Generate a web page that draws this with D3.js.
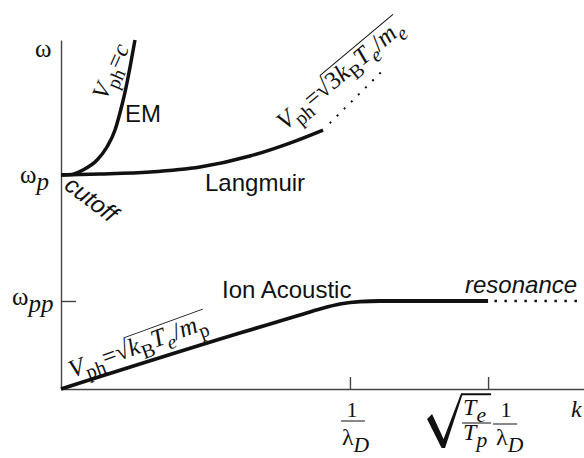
<!DOCTYPE html>
<html><head><meta charset="utf-8">
<script src="https://cdn.jsdelivr.net/npm/d3@7"></script>
<style>body{margin:0;background:#fff}svg{display:block}</style>
</head><body><svg id="c" width="584" height="458"></svg>
<script>
// ---- data (k in units of 1/lambda_D, omega in units of omega_pp) ----
const emK = [0, 0.038, 0.076, 0.125, 0.159, 0.187, 0.204, 0.221, 0.239, 0.256];
const emW = [2.432, 2.438, 2.489, 2.602, 2.75, 2.943, 3.136, 3.364, 3.659, 3.966];
const langK = [0, 0.135, 0.308, 0.481, 0.654, 0.792, 0.907];
const langW = [2.432, 2.443, 2.466, 2.523, 2.648, 2.795, 2.943];
const langDotK = [0.93, 1.12];
const langDotW = [3.02, 3.64];
const ionK = [0, 0.619, 0.758, 0.827, 0.896, 0.965, 1.035, 1.104, 1.478];
const ionW = [0, 0.636, 0.773, 0.841, 0.909, 0.966, 0.994, 1, 1];
const ionDotK = [1.5, 1.79];
const ionDotW = [1, 1];
const xTickVals = [1, 1.478];      // 1/lambda_D , sqrt(Te/Tp)/lambda_D
const yTickVals = [1];             // omega_pp
const omegaP = 2.432;
const kMax = 1.81, wMax = 3.966;

const svg = d3.select("#c");
const x = d3.scaleLinear().domain([0, kMax]).range([61, 584]);
const y = d3.scaleLinear().domain([0, wMax]).range([389, 40]);
const SERIF = "'Liberation Serif','Times New Roman',serif";
const SANS = "'Liberation Sans',Arial,Helvetica,sans-serif";

// axes
const gx = svg.append("g").attr("transform", `translate(0,${y(0)})`)
  .call(d3.axisBottom(x).tickValues(xTickVals).tickSizeInner(-12).tickSizeOuter(0).tickFormat(""));
const gy = svg.append("g").attr("transform", `translate(${x(0)},0)`)
  .call(d3.axisLeft(y).tickValues(yTickVals).tickSizeInner(-15).tickSizeOuter(0).tickFormat(""));
[gx, gy].forEach(g => {
  g.selectAll("path,line").attr("stroke", "#444").attr("stroke-width", 1.4);
});

// curves
const zip = (a, b) => a.map((v, i) => [v, b[i]]);
const line = d3.line().x(d => x(d[0])).y(d => y(d[1])).curve(d3.curveMonotoneX);
const lineL = d3.line().x(d => x(d[0])).y(d => y(d[1]));
svg.append("path").attr("d", line(zip(emK, emW))).attr("fill", "none").attr("stroke", "#111").attr("stroke-width", 3.5);
svg.append("path").attr("d", line(zip(langK, langW))).attr("fill", "none").attr("stroke", "#111").attr("stroke-width", 3.5);
svg.append("path").attr("d", line(zip(ionK, ionW))).attr("fill", "none").attr("stroke", "#111").attr("stroke-width", 3.8);
svg.append("path").attr("d", lineL(zip(langDotK, langDotW))).attr("fill", "none").attr("stroke", "#111")
  .attr("stroke-width", 2).attr("stroke-dasharray", "2,8");
svg.append("path").attr("d", lineL(zip(ionDotK, ionDotW))).attr("fill", "none").attr("stroke", "#111")
  .attr("stroke-width", 2.5).attr("stroke-dasharray", "2.5,7.5");

// math text helper: parts = [text, italic, sub, sizeFactor]
function mt(sel, x0, y0, parts, fs, anchor) {
  const t = sel.append("text").attr("x", x0).attr("y", y0)
    .style("font-family", SERIF).style("font-size", fs + "px").attr("fill", "#111");
  if (anchor) t.attr("text-anchor", anchor);
  let cur = 0;
  parts.forEach(([s, it, sub, sf]) => {
    const target = sub ? fs * 0.28 : 0;
    const ts = t.append("tspan").text(s).style("font-style", it ? "italic" : "normal").attr("dy", target - cur);
    cur = target;
    if (sub) ts.style("font-size", fs * (sf || 0.8) + "px");
    else if (sf) ts.style("font-size", fs * sf + "px");
  });
  return t;
}
function radFormula(cx, cy, ang, pre, inner, fs) {
  const g = svg.append("g").attr("transform", `translate(${cx},${cy}) rotate(${ang})`);
  const a = mt(g, 0, 0, pre.concat([["\u221A", false, false]]), fs);
  const wA = a.node().getComputedTextLength();
  const b = mt(g, wA, 0, inner, fs);
  const wB = b.node().getComputedTextLength();
  g.append("line").attr("x1", wA - 0.8).attr("x2", wA + wB + 1)
    .attr("y1", -fs * 0.8).attr("y2", -fs * 0.8).attr("stroke", "#111").attr("stroke-width", 1);
}
const vph = [["V", true, false], ["ph", false, true], ["=", false, false]];

// Vph = c
{
  const g = svg.append("g").attr("transform", "translate(106,101) rotate(-66)");
  mt(g, 0, 0, vph.concat([["c", true, false]]), 24);
}
radFormula(285, 131, -40, vph, [["3", false, false], ["k", true, false], ["B", false, true], ["T", true, false], ["e", true, true], ["/", false, false], ["m", true, false], ["e", true, true]], 25);
radFormula(72, 378, -20, vph, [["k", true, false], ["B", false, true], ["T", true, false], ["e", true, true], ["/", false, false], ["m", true, false], ["p", false, true]], 25);

// sans labels
const sans = (tx, ty, s, italic, rot) => {
  const t = svg.append("text").text(s).style("font-family", SANS).style("font-size", "24px").attr("fill", "#111")
    .style("font-style", italic ? "italic" : "normal");
  if (rot) t.attr("transform", `translate(${tx},${ty}) rotate(${rot})`);
  else t.attr("x", tx).attr("y", ty);
};
sans(125, 122, "EM");
sans(205, 191, "Langmuir");
sans(222, 298, "Ion Acoustic");
sans(465, 293, "resonance", true);
sans(63, 188, "cutoff", true, 37);

// y-axis labels
mt(svg, 35, 57, [["\u03C9", false, false]], 25);
mt(svg, 20, y(omegaP) + 8, [["\u03C9", false, false], ["p", true, true, 1]], 25);
mt(svg, 12, y(yTickVals[0]) + 4, [["\u03C9", false, false], ["pp", true, true, 1]], 25);

// x-axis labels
const t1 = x(xTickVals[0]), t2 = x(xTickVals[1]);
mt(svg, t1 + 2, 417, [["1", false, false]], 22, "middle");
svg.append("line").attr("x1", t1 - 9).attr("x2", t1 + 15).attr("y1", 421).attr("y2", 421).attr("stroke", "#111").attr("stroke-width", 1);
mt(svg, t1 - 8, 445, [["\u03BB", false, false], ["D", true, true, 0.9]], 24);

// sqrt(Te/Tp) 1/lambda_D
const rp = [[-61, 419], [-56, 414], [-44.5, 439], [-27, 393.3], [3, 393.3], [3, 395.2], [-25.8, 395.2], [-43, 448], [-46.5, 448]];
svg.append("path").attr("d", "M" + rp.map(p => [t2 + p[0], p[1]].join(",")).join("L") + "Z").attr("fill", "#111");
mt(svg, t2 - 25, 415, [["T", true, false], ["e", true, true, 0.9]], 24);
svg.append("line").attr("x1", t2 - 26).attr("x2", t2 + 3).attr("y1", 423).attr("y2", 423).attr("stroke", "#111").attr("stroke-width", 1);
mt(svg, t2 - 25, 440, [["T", true, false], ["p", true, true, 0.9]], 24);
mt(svg, t2 + 18, 417, [["1", false, false]], 22, "middle");
svg.append("line").attr("x1", t2 + 5).attr("x2", t2 + 29).attr("y1", 424).attr("y2", 424).attr("stroke", "#111").attr("stroke-width", 1);
mt(svg, t2 + 8, 445, [["\u03BB", false, false], ["D", true, true, 0.9]], 24);

mt(svg, 571, 417, [["k", true, false]], 24);
</script></body></html>
